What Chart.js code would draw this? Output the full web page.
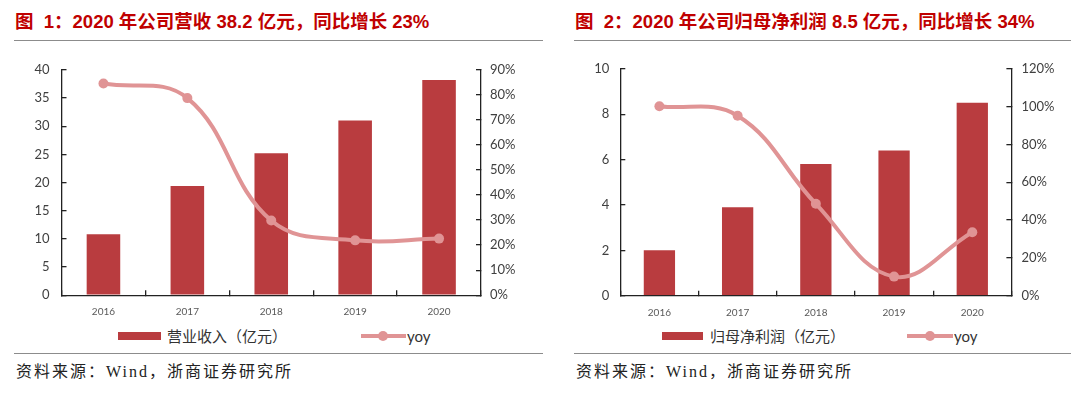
<!DOCTYPE html>
<html>
<head>
<meta charset="utf-8">
<script src="https://cdn.jsdelivr.net/npm/chart.js@4.4.1/dist/chart.umd.min.js"></script>
<style>
  body { margin: 0; background: #fff; width: 1080px; height: 394px; position: relative; overflow: hidden; }
  .title { position: absolute; top: 10px; font: bold 18.5px "Liberation Sans", "Noto Sans CJK SC", sans-serif; color: #c00000; white-space: pre; line-height: 24px; }
  .rule { position: absolute; height: 0; border-top: 1.5px solid #8c8c8c; }
  .src { position: absolute; top: 361px; font: 16px "Liberation Serif", "Noto Sans CJK SC", serif; color: #222; letter-spacing: 2px; white-space: nowrap; line-height: 22px; }
  canvas { position: absolute; }
  .lg { position: absolute; font: 15px "Noto Sans CJK SC", sans-serif; color: #333; white-space: nowrap; line-height: 20px; top: 326px; }
  .lg.en { font-family: Lato, sans-serif; }
  .box { position: absolute; top: 332px; height: 8px; background: #b93c3f; }
  .ln { position: absolute; top: 334px; height: 4px; background: #e09495; }
  .dot { position: absolute; top: 331px; width: 10px; height: 10px; border-radius: 50%; background: #e09495; }
</style>
</head>
<body>
<div class="title" style="left:15px">图  1：2020 年公司营收 38.2 亿元，同比增长 23%</div>
<div class="title" style="left:575px">图  2：2020 年公司归母净利润 8.5 亿元，同比增长 34%</div>
<div class="rule" style="left:14px; width:529px; top:40px"></div>
<div class="rule" style="left:574px; width:497px; top:40px"></div>

<canvas id="c1" width="540" height="275" style="left:0; top:45px"></canvas>
<canvas id="c2" width="540" height="275" style="left:540px; top:45px"></canvas>

<div class="box" style="left:118px; width:43px"></div>
<div class="lg" id="lg1" style="left:167px"></div>
<div class="ln" style="left:361px; width:45px"></div>
<div class="dot" style="left:378px"></div>
<div class="lg en" id="lg1y" style="left:407px"></div>

<div class="box" style="left:662px; width:41px"></div>
<div class="lg" id="lg2" style="left:710px"></div>
<div class="ln" style="left:907px; width:46px"></div>
<div class="dot" style="left:925px"></div>
<div class="lg en" id="lg2y" style="left:954px"></div>

<div class="rule" style="left:14px; width:529px; top:353px"></div>
<div class="rule" style="left:574px; width:497px; top:353px"></div>
<div class="src" style="left:16px">资料来源：Wind，浙商证券研究所</div>
<div class="src" style="left:576px">资料来源：Wind，浙商证券研究所</div>

<script>
const years = ['2016', '2017', '2018', '2019', '2020'];

// 图1 营业收入（亿元）和同比
const revenue = [10.8, 19.4, 25.2, 31.0, 38.2];
const revenueYoy = [84.5, 78.7, 29.8, 21.9, 22.6];

// 图2 归母净利润（亿元）和同比
const profit = [2.0, 3.9, 5.8, 6.4, 8.5];
const profitYoy = [100.2, 95.2, 48.6, 10.1, 33.6];

const barLabels = ['营业收入（亿元）', '归母净利润（亿元）'];
const lineLabel = 'yoy';

const BAR = '#b93c3f';
const LINE = '#e09495';
const AXIS = '#222';

document.getElementById('lg1').textContent = barLabels[0];
document.getElementById('lg2').textContent = barLabels[1];
document.getElementById('lg1y').textContent = lineLabel;
document.getElementById('lg2y').textContent = lineLabel;

function makeChart(id, bars, yoy, cfg) {
    const fixWidth = w => scale => { scale.width = w; };
    return new Chart(document.getElementById(id), {
        data: {
            labels: years,
            datasets: [
                {
                    type: 'line',
                    label: lineLabel,
                    data: yoy,
                    yAxisID: 'y1',
                    borderColor: LINE,
                    backgroundColor: LINE,
                    borderWidth: 4,
                    pointRadius: 5,
                    pointBackgroundColor: LINE,
                    pointBorderWidth: 0,
                    tension: 0.4,
                    order: 0
                },
                {
                    type: 'bar',
                    label: cfg.barLabel,
                    data: bars,
                    yAxisID: 'y',
                    backgroundColor: BAR,
                    categoryPercentage: 1,
                    barPercentage: 0.4,
                    order: 1
                }
            ]
        },
        options: {
            responsive: false,
            animation: false,
            layout: { padding: { top: 10, left: 0, right: 0, bottom: 0 } },
            plugins: { legend: { display: false }, tooltip: { enabled: false } },
            scales: {
                x: {
                    offset: true,
                    border: { color: AXIS, width: 1.3 },
                    grid: { offset: true, drawOnChartArea: false, tickLength: -5, color: AXIS, lineWidth: 1.3 },
                    ticks: { padding: 16, color: '#595959', font: { family: 'Lato', size: 10 } },
                    afterFit: scale => { scale.height = 24.3; }
                },
                y: {
                    position: 'left',
                    min: 0,
                    max: cfg.yMax,
                    border: { color: AXIS, width: 1.3 },
                    grid: { drawOnChartArea: false, tickLength: -5, color: AXIS, lineWidth: 1.3 },
                    ticks: { stepSize: cfg.yStep, padding: cfg.padL, color: '#404040', font: { family: 'Lato', size: 13 } },
                    afterFit: fixWidth(cfg.yWidth)
                },
                y1: {
                    position: 'right',
                    min: 0,
                    max: cfg.y1Max,
                    border: { color: AXIS, width: 1.3 },
                    grid: { drawOnChartArea: false, tickLength: -5, color: AXIS, lineWidth: 1.3 },
                    ticks: {
                        stepSize: cfg.y1Step,
                        padding: cfg.padR,
                        color: '#404040',
                        font: { family: 'Lato', size: 13 },
                        callback: v => v + '%'
                    },
                    afterFit: fixWidth(cfg.y1Width)
                }
            }
        }
    });
}

makeChart('c1', revenue, revenueYoy, {
    barLabel: barLabels[0], yMax: 40, yStep: 5, y1Max: 90, y1Step: 10,
    yWidth: 61.5, y1Width: 59, padL: 17, padR: 14
});
makeChart('c2', profit, profitYoy, {
    barLabel: barLabels[1], yMax: 10, yStep: 2, y1Max: 120, y1Step: 20,
    yWidth: 80.3, y1Width: 68.6, padL: 16, padR: 15
});
</script>
</body>
</html>
